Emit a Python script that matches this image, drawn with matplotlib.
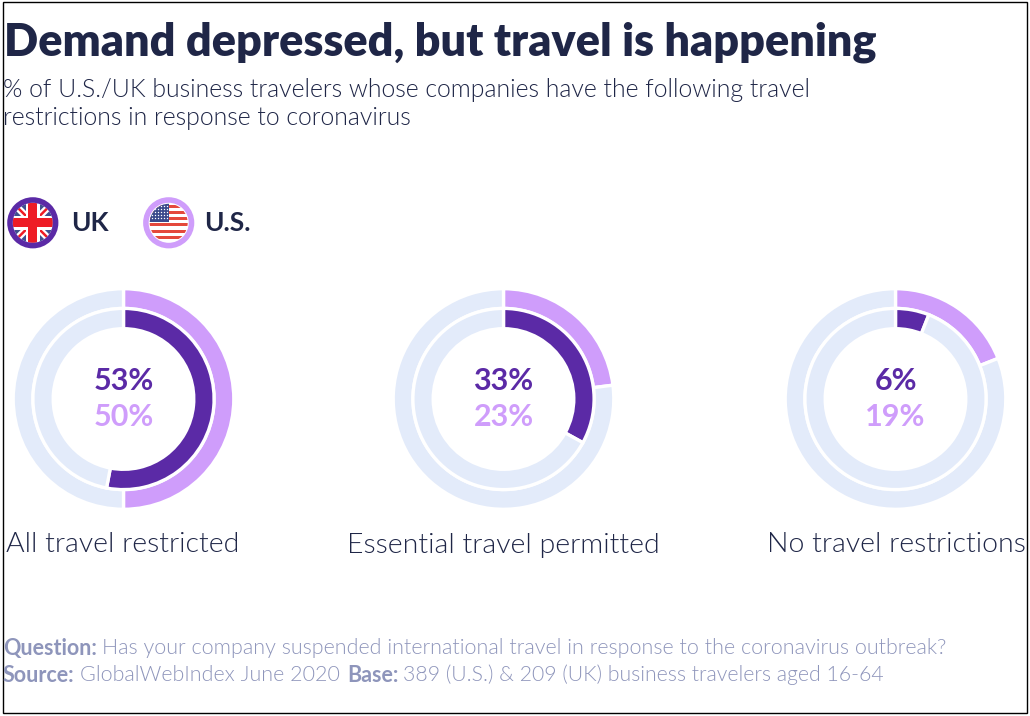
import numpy as np
import matplotlib
matplotlib.use("Agg")
import matplotlib.pyplot as plt
from matplotlib.patches import Circle, Rectangle

W, H = 1030, 716

categories = ["All travel restricted", "Essential travel permitted", "No travel restrictions"]
uk_values = [53, 33, 6]
us_values = [50, 23, 19]

title = "Demand depressed, but travel is happening"
subtitle = ["% of U.S./UK business travelers whose companies have the following travel",
            "restrictions in response to coronavirus"]

DARK = "#5b2aa6"
LIGHT = "#cf9dfb"
TRACK = "#e3ebfa"
NAVY = "#1f2647"
GREY = "#8e95bb"

plt.rcParams["font.family"] = "Lato"

fig = plt.figure(figsize=(W / 100, H / 100), dpi=100)

# full figure axes in pixel coords, y going down
bg = fig.add_axes([0, 0, 1, 1])
bg.set_xlim(0, W)
bg.set_ylim(H, 0)
bg.axis("off")

bg.add_patch(Rectangle((2.5, 2), 1024, 711, fill=False, ec="black", lw=1))

bg.text(4, 42, title, fontsize=32.4, fontweight=800, color=NAVY, va="center")
bg.text(3, 90.5, subtitle[0], fontsize=17.95, fontweight=300, color=NAVY, va="center")
bg.text(3, 118.5, subtitle[1], fontsize=17.95, fontweight=300, color=NAVY, va="center")


def uk_flag(cx, cy):
    clip = Circle((cx, cy), 20, transform=bg.transData)
    parts = [bg.add_patch(Rectangle((cx - 21, cy - 21), 42, 42, fc="#3f4f8f", ec="none", zorder=2))]
    for s in [1, -1]:
        parts.extend(bg.plot([cx - 21, cx + 21], [cy - 21 * s, cy + 21 * s], color="white", lw=5, zorder=3))
        parts.extend(bg.plot([cx - 21, cx + 21], [cy - 21 * s, cy + 21 * s], color="#ee1c25", lw=1.8, zorder=4))
    parts.append(bg.add_patch(Rectangle((cx - 21, cy - 7), 42, 14, fc="white", ec="none", zorder=5)))
    parts.append(bg.add_patch(Rectangle((cx - 7, cy - 21), 14, 42, fc="white", ec="none", zorder=5)))
    parts.append(bg.add_patch(Rectangle((cx - 21, cy - 4.5), 42, 9, fc="#ee1c25", ec="none", zorder=6)))
    parts.append(bg.add_patch(Rectangle((cx - 4.5, cy - 21), 9, 42, fc="#ee1c25", ec="none", zorder=6)))
    for p in parts:
        p.set_clip_path(clip)
    bg.add_patch(Circle((cx, cy), 22.8, fc="none", ec=DARK, lw=4, zorder=7))


def us_flag(cx, cy):
    clip = Circle((cx, cy), 19, transform=bg.transData)
    parts = [bg.add_patch(Rectangle((cx - 21, cy - 21), 42, 42, fc="white", ec="none", zorder=2))]
    for i in range(0, 12, 2):
        parts.append(bg.add_patch(Rectangle((cx - 21, cy - 18 + i * 3.1), 42, 3.1, fc="#e4483c", ec="none", zorder=3)))
    parts.append(bg.add_patch(Rectangle((cx - 21, cy - 21), 21, 20, fc="#3b4a8c", ec="none", zorder=4)))
    sx, sy = np.meshgrid(np.arange(cx - 17, cx - 1, 3), np.arange(cy - 17, cy - 2, 3))
    parts.append(bg.scatter(sx.ravel(), sy.ravel(), s=1, c="white", linewidths=0, zorder=5))
    for p in parts:
        p.set_clip_path(clip)
    bg.add_patch(Circle((cx, cy), 22.8, fc="none", ec=LIGHT, lw=4, zorder=7))


uk_flag(32.8, 222.8)
us_flag(168.7, 222.8)
bg.text(71, 223, "UK", fontsize=19, fontweight=700, color=NAVY, va="center")
bg.text(204, 223, "U.S.", fontsize=19, fontweight=700, color=NAVY, va="center")

centers = [123.5, 503.5, 895.5]
label_x = [122.5, 503, 896]

for i, cat in enumerate(categories):
    cx = centers[i]
    cy = 399
    ax = fig.add_axes([(cx - 115) / W, 1 - (cy + 115) / H, 230 / W, 230 / H])
    ax.pie([us_values[i], 100 - us_values[i]], radius=110.3, startangle=90, counterclock=False,
           colors=[LIGHT, TRACK], wedgeprops=dict(width=19.8, edgecolor="white", linewidth=2.4))
    ax.pie([uk_values[i], 100 - uk_values[i]], radius=90.6, startangle=90, counterclock=False,
           colors=[DARK, TRACK], wedgeprops=dict(width=20.3, edgecolor="white", linewidth=2.4))
    ax.set_xlim(-115, 115)
    ax.set_ylim(-115, 115)
    ax.text(0, 17.5, f"{uk_values[i]}%", fontsize=22, fontweight=700, color=DARK, ha="center", va="center")
    ax.text(0, -17.5, f"{us_values[i]}%", fontsize=22, fontweight=700, color=LIGHT, ha="center", va="center")
    bg.text(label_x[i], 545, cat, fontsize=20.5, fontweight=300, color=NAVY, ha="center", va="center")

bg.text(3, 648, "Question:", fontsize=15.5, fontweight=700, color=GREY, va="center")
bg.text(102, 648, "Has your company suspended international travel in response to the coronavirus outbreak?",
        fontsize=15.5, fontweight=300, color=GREY, va="center")
bg.text(3, 675, "Source:", fontsize=15.5, fontweight=700, color=GREY, va="center")
bg.text(80, 675, "GlobalWebIndex June 2020", fontsize=15.5, fontweight=300, color=GREY, va="center")
bg.text(347, 675, "Base:", fontsize=15.5, fontweight=700, color=GREY, va="center")
bg.text(403, 675, "389 (U.S.) & 209 (UK) business travelers aged 16-64", fontsize=15.3, fontweight=300,
        color=GREY, va="center")

fig.savefig("out.png", dpi=100)
